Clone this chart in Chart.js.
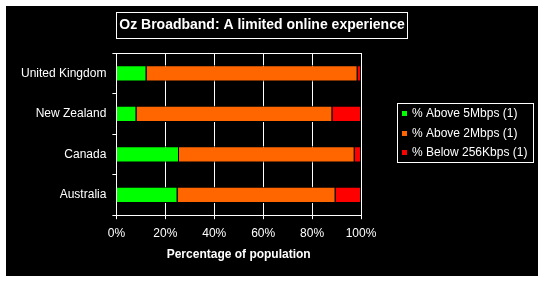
<!DOCTYPE html>
<html>
<head>
<meta charset="utf-8">
<script src="https://cdn.jsdelivr.net/npm/chart.js@4"></script>
<style>
  html, body { margin: 0; padding: 0; background: #fff; }
  #wrap { position: absolute; left: 6px; top: 6px; width: 532px; height: 270px; background: #000; }
</style>
</head>
<body>
<div id="wrap"><canvas id="broadband" width="532" height="270"></canvas></div>
<script>
var countries = ['United Kingdom', 'New Zealand', 'Canada', 'Australia']
var above5 = [12.3, 8.2, 25.6, 25.0]
var above2 = [86.3, 80.1, 71.8, 64.6]
var below256 = [1.4, 11.7, 2.6, 10.4]
var seriesNames = ['% Above 5Mbps (1)', '% Above 2Mbps (1)', '% Below 256Kbps (1)']
var seriesColors = ['#00ff00', '#ff6600', '#ff0000']
var xTicks = [0, 20, 40, 60, 80, 100]

var fontFamily = '"Liberation Sans", Arial, sans-serif'

// title box, plot frame top line and the boxed legend
var decorations = {
    id: 'decorations',
    afterDraw: function (chart) {
        var ctx = chart.ctx
        var area = chart.chartArea
        ctx.save()
        ctx.strokeStyle = '#fff'
        ctx.lineWidth = 1

        ctx.beginPath()
        ctx.moveTo(area.left, Math.round(area.top) + 0.5)
        ctx.lineTo(area.right + 0.5, Math.round(area.top) + 0.5)
        ctx.stroke()

        var title = 'Oz Broadband: A limited online experience'
        ctx.font = 'bold 14px ' + fontFamily
        ctx.fillStyle = '#fff'
        ctx.textAlign = 'center'
        ctx.textBaseline = 'middle'
        var tx = 256
        ctx.fillText(title, tx, 19)
        var tw = ctx.measureText(title).width
        ctx.strokeRect(Math.round(tx - tw / 2 - 3) + 0.5, 6.5, Math.round(tw + 6), 26)

        ctx.strokeRect(391.5, 97.5, 136, 59)
        ctx.font = '12px ' + fontFamily
        ctx.textAlign = 'left'
        chart.data.datasets.forEach(function (ds, i) {
            var y = 108 + i * 19.5
            ctx.fillStyle = ds.backgroundColor
            ctx.fillRect(396, Math.round(y - 3), 5, 5)
            ctx.fillStyle = '#fff'
            ctx.fillText(ds.label, 406, y)
        })
        ctx.restore()
    }
}

var data = {
    labels: countries,
    datasets: [
        { label: seriesNames[0], data: above5, backgroundColor: seriesColors[0] },
        { label: seriesNames[1], data: above2, backgroundColor: seriesColors[1] },
        { label: seriesNames[2], data: below256, backgroundColor: seriesColors[2] }
    ].map(function (ds) {
        ds.borderColor = '#000'
        ds.borderWidth = 1
        ds.barPercentage = 0.4
        ds.categoryPercentage = 1.0
        return ds
    })
}

var ctx = document.getElementById('broadband')

new Chart(ctx, {
    type: 'bar',
    data: data,
    plugins: [decorations],
    options: {
        indexAxis: 'y',
        responsive: false,
        animation: false,
        layout: {
            padding: { top: 47, left: 9, right: 177, bottom: 14 }
        },
        plugins: {
            legend: { display: false },
            title: { display: false },
            tooltip: { enabled: false }
        },
        scales: {
            x: {
                stacked: true,
                min: 0,
                max: 100,
                afterBuildTicks: function (axis) {
                    axis.ticks = xTicks.map(v => ({ value: v }))
                },
                ticks: {
                    color: '#fff',
                    font: { family: fontFamily, size: 12 },
                    padding: 7,
                    maxRotation: 0,
                    callback: function (v) { return v + '%' }
                },
                grid: { color: '#fff', lineWidth: 1, tickLength: 4 },
                border: { color: '#fff', width: 1 },
                title: {
                    display: true,
                    text: 'Percentage of population',
                    color: '#fff',
                    font: { family: fontFamily, size: 12, weight: 'bold' },
                    padding: { top: 0, bottom: 0 }
                }
            },
            y: {
                stacked: true,
                ticks: {
                    color: '#fff',
                    font: { family: fontFamily, size: 12 },
                    padding: 6
                },
                grid: {
                    color: '#fff',
                    offset: true,
                    drawOnChartArea: false,
                    tickLength: 4
                },
                border: { color: '#fff', width: 1 }
            }
        }
    }
})
</script>
</body>
</html>
